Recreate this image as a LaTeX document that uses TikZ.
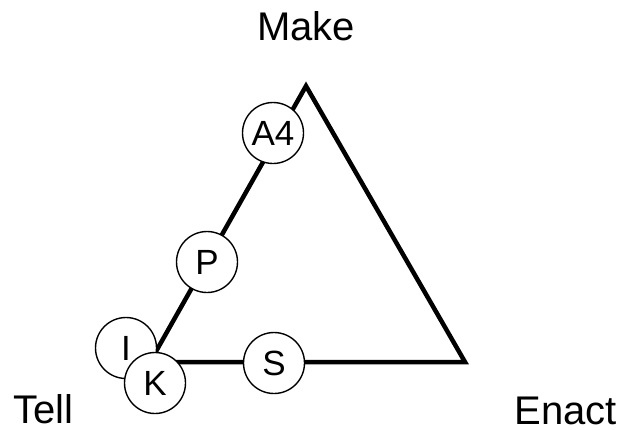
\documentclass[tikz,border=0pt]{standalone}
\usepackage{fontspec}
\setmainfont{Liberation Sans}
\begin{document}
\begin{tikzpicture}[x=1pt,y=-1pt,
    corner/.style={inner sep=0pt, text depth=0pt, font=\fontsize{40}{48}\selectfont},
    stage/.style={circle, draw, line width=1.4pt, fill=white, minimum size=61pt, inner sep=0pt, font=\fontsize{35}{42}\selectfont}]
    \useasboundingbox (0,0) rectangle (620,429);
    \coordinate (top) at (306,86);
    \coordinate (left) at (150,362);
    \coordinate (right) at (465,362);
    \draw[line width=4.5pt, line join=miter] (top) -- (right) -- (left) -- cycle;
    \node[corner, anchor=base] (make) at (306,40) {Make};
    \node[corner, anchor=base west] (tell) at (13,423) {Tell};
    \node[corner, anchor=base east] (enact) at (617,424) {Enact};
    \node[stage] (a4) at (273,133) {A4};
    \node[stage] (p) at (207,262) {P};
    \node[stage] (s) at (274,363) {S};
    \node[stage] (i) at (126,348) {I};
    \node[stage] (k) at (155,383) {K};
\end{tikzpicture}
\end{document}
